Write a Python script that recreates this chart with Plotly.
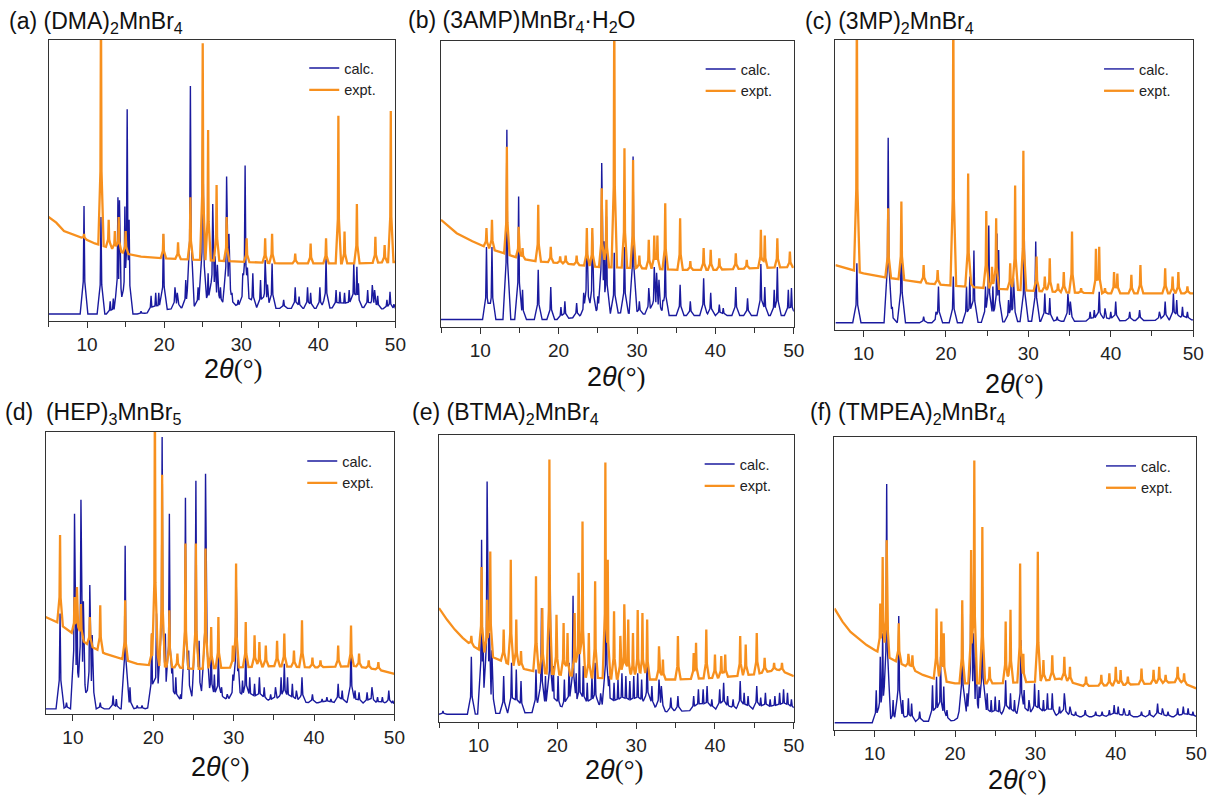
import numpy as np
import plotly.graph_objects as go

W, H = 1225, 797
BLUE = "#1a1a9e"
ORANGE = "#f7901e"
FONT = "Arial, 'Liberation Sans', sans-serif"

# ---------------- data (2-theta in degrees, intensity in arbitrary units, box top = 100) ----------------
titles = [
    "(a) (DMA)<sub>2</sub>MnBr<sub>4</sub>",
    "(b) (3AMP)MnBr<sub>4</sub>·H<sub>2</sub>O",
    "(c) (3MP)<sub>2</sub>MnBr<sub>4</sub>",
    "(d)\u00a0\u00a0(HEP)<sub>3</sub>MnBr<sub>5</sub>",
    "(e) (BTMA)<sub>2</sub>MnBr<sub>4</sub>",
    "(f) (TMPEA)<sub>2</sub>MnBr<sub>4</sub>",
]
x_ranges = [[5, 50], [5, 50], [6.6, 50], [6.6, 50], [5, 50], [5, 50]]
x_ticks = [10, 20, 30, 40, 50]
series_names = ["calc.", "expt."]

# (a) (DMA)2MnBr4
a_calc_base = [(5, 2.5), (17, 2.5), (18, 3), (20, 4), (23, 5), (27, 6), (30, 5), (35, 4.5), (40, 4.5), (45, 5), (50, 4)]
a_calc_peaks = [(9.6, 40.9), (11.8, 37), (13.0, 7), (13.4, 8), (14.0, 44), (14.2, 43), (14.9, 40.7), (15.2, 75.4),
                (15.45, 36), (17.0, 3.5), (18.3, 9), (18.9, 10), (19.3, 10), (19.9, 31), (21.4, 12), (21.7, 10),
                (22.8, 14.6), (23.4, 83.6), (24.4, 12), (25.0, 68.6), (25.7, 17), (26.3, 41.6), (26.6, 23), (26.9, 20),
                (27.3, 12), (28.1, 51.4), (28.4, 31), (28.8, 10), (29.6, 7.5), (30.2, 17), (30.5, 55.3), (30.8, 19),
                (31.5, 17), (32.5, 14.6), (33.1, 21.7), (33.4, 13), (34.0, 20.5), (35.5, 7.5), (37.0, 12), (37.5, 8.7),
                (38.6, 12), (39.0, 10), (40.2, 12), (41.0, 22.3), (42.3, 11), (42.8, 10.4), (43.4, 10), (44.0, 11),
                (44.6, 20.5), (45.0, 19.3), (45.2, 13.4), (46.4, 11), (47.0, 12.8), (47.3, 11), (47.7, 9), (48.9, 7.5),
                (49.3, 10.4), (49.8, 6)]
a_expt_base = [(5, 37), (6, 35), (7, 32), (9, 30), (11, 27.6), (13, 25.9), (15, 24), (17, 22.9), (20, 22.3),
               (25, 21.7), (30, 21.1), (35, 20.5), (40, 20.5), (45, 20.5), (50, 21)]
a_expt_peaks = [(9.6, 31), (11.8, 115), (12.8, 36), (13.6, 32), (14.1, 37), (15.0, 32), (19.9, 31), (21.8, 28),
                (23.4, 44), (25.0, 98.8), (25.7, 68), (26.8, 48.4), (28.1, 37), (30.7, 29.4), (33.1, 29.4), (34.0, 31),
                (37.0, 24), (39.0, 27.6), (41.0, 29.4), (42.6, 73), (43.4, 31.8), (45.0, 41.6), (47.4, 30), (48.6, 27),
                (49.4, 74.7)]

# (b) (3AMP)MnBr4.H2O
b_calc_base = [(5, 2.6), (20, 2.6), (24, 4), (28, 5), (34, 4), (40, 4), (50, 4)]
b_calc_peaks = [(10.8, 28), (11.5, 28), (13.4, 69), (14.9, 45.6), (15.4, 13), (17.4, 20), (19.0, 14), (20.3, 7),
                (20.8, 9), (22.3, 8.4), (23.2, 12), (23.6, 34), (24.3, 33), (25.0, 10.7), (25.5, 57.3), (25.8, 30),
                (26.1, 38.6), (27.1, 26), (28.4, 28), (29.5, 59.6), (30.3, 9), (31.5, 13.6), (32.2, 21), (32.5, 19),
                (32.8, 16.5), (33.3, 9.5), (33.6, 26), (35.5, 14.8), (36.8, 9), (38.5, 17), (39.4, 12), (40.5, 7.8),
                (41.0, 6.6), (42.6, 14), (44.1, 10), (45.8, 22), (46.3, 14), (47.5, 13), (47.9, 21), (49.3, 13),
                (49.7, 13.6)]
b_expt_base = [(5, 37.5), (6, 35), (7, 32.8), (9, 30), (11, 27.6), (13, 25.8), (15, 24), (17, 23), (20, 22.4),
               (25, 21), (30, 20.6), (35, 20), (40, 20), (45, 20.6), (50, 21)]
b_expt_peaks = [(10.8, 34.6), (11.5, 37.5), (13.4, 63), (14.9, 35), (15.4, 27.6), (17.4, 42.7), (19.0, 28),
                (20.2, 24.7), (20.9, 25), (22.3, 25), (23.6, 34.6), (24.3, 34.6), (25.5, 48.5), (26.1, 44.5),
                (27.1, 115), (28.4, 62.5), (29.5, 58.4), (30.3, 25), (31.5, 30.5), (32.2, 32), (32.6, 32),
                (33.6, 43.3), (35.5, 38), (36.8, 23), (38.5, 27.6), (39.4, 27), (40.5, 24), (42.6, 25.8), (44.0, 23.5),
                (45.8, 34), (46.3, 32), (47.9, 31), (49.5, 26.4)]

# (c) (3MP)2MnBr4
c_calc_base = [(6.6, 2.5), (22, 2.5), (30, 3), (35, 3), (50, 3.5)]
c_calc_peaks = [(9.2, 23), (13.0, 66.3), (13.5, 8), (14.6, 36.8), (17.3, 4.6), (18.8, 6.3), (19.1, 15), (20.9, 18.4),
                (22.5, 15), (22.9, 18.4), (23.4, 27.4), (24.8, 15), (25.2, 36), (25.7, 15), (26.2, 33.3), (26.4, 27.6),
                (27.6, 10.3), (27.9, 16), (28.2, 17.8), (29.5, 34.5), (30.9, 30.5), (32.0, 12.6), (32.6, 11),
                (33.5, 4.6), (34.8, 12.6), (35.1, 9.8), (37.5, 6.3), (38.0, 6.9), (38.6, 13.2), (39.3, 7.5),
                (40.0, 6.3), (40.6, 9.8), (42.3, 6.3), (43.5, 6.9), (45.9, 6.3), (46.6, 9.8), (47.6, 12.6),
                (48.0, 10.3), (48.7, 8), (49.3, 6.3)]
c_expt_base = [(6.6, 22.4), (8, 21.3), (10, 19.5), (12, 18.4), (15, 17.2), (18, 16), (20, 15.5), (25, 14.4),
               (30, 13.6), (35, 12.9), (40, 12.6), (45, 12.6), (50, 12.6)]
c_expt_peaks = [(9.2, 115), (13.0, 42), (14.6, 44.3), (17.3, 22.4), (19.0, 20.7), (20.9, 115), (22.7, 54), (23.0, 18.4),
                (24.9, 41), (25.6, 21.8), (26.1, 38.5), (27.8, 23), (28.4, 49.8), (29.4, 61.8), (31.0, 25.3),
                (32.0, 18.4), (32.6, 24.7), (33.6, 16), (34.3, 20), (35.3, 34), (36.4, 14.4), (38.2, 28), (38.6, 28.7),
                (39.3, 14.4), (40.4, 20), (40.8, 19.5), (42.5, 19), (43.6, 22.4), (46.6, 21.3), (47.5, 18.4),
                (48.2, 20), (49.3, 15)]

# (d) (HEP)3MnBr5
d_calc_base = [(6.6, 1.8), (19, 1.8), (21, 4), (25, 5), (30, 5), (40, 4), (45, 4), (50, 3.5)]
d_calc_peaks = [(8.4, 35.6), (9.2, 4), (10.2, 71), (10.5, 45), (11.0, 76), (11.3, 40), (12.1, 45.7), (12.4, 28),
                (13.4, 4), (15.0, 6.5), (15.4, 5.3), (16.5, 59.7), (17.1, 9.5), (18.0, 3), (18.6, 3), (19.8, 28.5),
                (20.4, 35.6), (21.1, 98.2), (21.5, 28.5), (22.0, 71), (22.4, 16.6), (22.8, 13), (23.4, 7), (24.0, 76.7),
                (24.4, 22.5), (25.3, 82.7), (25.7, 26), (26.5, 85.2), (27.2, 23.7), (27.6, 14), (28.1, 21.4),
                (28.5, 9.5), (29.2, 7), (29.9, 14), (30.3, 50.4), (30.6, 16.6), (31.1, 11.9), (31.5, 22.5), (32.0, 13),
                (32.6, 10.7), (33.2, 13), (33.8, 9.5), (34.6, 7), (35.2, 9.5), (35.9, 13), (36.3, 17.8), (36.7, 13),
                (37.3, 10.7), (37.8, 8.3), (38.5, 13), (39.8, 7), (41.0, 5.3), (41.6, 6), (42.1, 5.3), (43.0, 10.7),
                (43.5, 8.3), (44.6, 23.7), (45.1, 8.3), (45.6, 7.7), (46.6, 7.7), (47.2, 9.5), (47.9, 6), (48.5, 6),
                (49.3, 8.3), (49.8, 4.7)]
d_expt_base = [(6.6, 34.4), (8, 32.6), (10, 28.5), (12, 24.3), (14, 21.4), (16, 19.6), (18, 17.8), (20, 17.2),
               (25, 16), (30, 16.5), (35, 17), (40, 16.5), (45, 17), (48, 15.7), (50, 14.2)]
d_expt_peaks = [(8.4, 63.5), (10.2, 41.5), (10.5, 45), (11.0, 39), (12.1, 34.4), (13.4, 38.6), (16.5, 40.3),
                (19.8, 28.5), (20.2, 115), (20.4, 35.6), (21.1, 84.8), (22.0, 36.8), (23.0, 21.4), (24.0, 60.5),
                (25.3, 60.5), (26.5, 58.7), (27.2, 30.8), (28.1, 34.4), (29.9, 24.3), (30.3, 53.4), (31.5, 32.6),
                (32.6, 27.9), (33.2, 25.5), (34.0, 24.3), (35.4, 26), (36.3, 28.5), (37.5, 22.5), (38.5, 33.2),
                (39.8, 20), (40.8, 19), (43.0, 24.3), (44.6, 31.4), (45.6, 21.4), (46.8, 19), (48.0, 18.4)]

# (e) (BTMA)2MnBr4
e_calc_base = [(5, 2.7), (9, 2.7), (12, 3), (20, 3.5), (26, 5), (32, 5), (34, 3.5), (40, 4.5), (50, 4.5)]
e_calc_peaks = [(5.5, 3.8), (9.1, 22.7), (10.4, 63.5), (10.6, 27.6), (11.1, 83.8), (11.4, 31), (11.7, 25), (13.2, 16),
                (14.2, 20.6), (14.8, 18.3), (15.4, 14.3), (17.3, 18.3), (18.0, 39.7), (18.5, 16), (19.1, 51.3),
                (19.5, 19.5), (20.1, 16), (20.9, 14.8), (21.5, 20.6), (22.0, 44), (22.4, 17), (22.8, 25), (23.3, 19.5),
                (23.8, 13.7), (24.4, 16), (24.8, 20.6), (25.5, 10), (26.2, 54.8), (26.6, 16), (27.2, 13.7),
                (27.7, 14.8), (28.2, 17), (28.7, 16), (29.2, 14.3), (29.7, 16), (30.2, 17), (30.7, 14.8), (31.4, 23),
                (32.0, 12.5), (32.9, 14.8), (33.2, 12.5), (34.4, 8.5), (35.3, 9), (37.3, 9), (37.9, 11.4), (38.5, 11.4),
                (39.0, 12.5), (39.6, 7.9), (40.6, 11.4), (41.1, 13.7), (41.6, 9), (42.3, 7.9), (43.2, 14.3),
                (43.7, 10.2), (44.2, 9), (45.3, 12.5), (45.8, 8.5), (46.4, 10.2), (47.0, 7.9), (47.6, 9), (48.2, 10.2),
                (48.7, 11.4), (49.2, 10.2), (49.7, 7.9)]
e_expt_base = [(5, 39.7), (6, 35.7), (7, 32.2), (8, 29.3), (9, 27), (10, 25.3), (12, 22.4), (14, 20), (16, 18.3),
               (18, 17.1), (20, 16.6), (25, 15.4), (30, 14.8), (35, 14.8), (40, 15.4), (45, 16.6), (48, 18.3), (50, 16)]
e_expt_peaks = [(9.1, 30), (10.4, 54), (11.1, 42.6), (11.5, 59.4), (13.2, 32.2), (14.1, 56.5), (14.8, 35.7),
                (15.4, 24.7), (17.3, 50.8), (18.1, 39.7), (19.0, 91.5), (19.9, 37.4), (20.8, 34.5), (21.3, 31),
                (22.2, 38), (22.7, 52), (23.2, 69.9), (24.0, 31), (24.8, 49), (26.1, 90.4), (26.4, 56.5), (27.2, 38.6),
                (28.0, 30), (28.5, 41), (29.0, 35.7), (29.6, 31), (30.2, 39), (30.8, 38), (31.4, 35.7), (32.9, 26.4),
                (33.4, 21.8), (35.3, 30), (37.3, 24), (37.6, 27.6), (38.9, 32.2), (40.0, 23.5), (40.8, 23),
                (41.3, 23.5), (43.2, 30), (43.9, 27), (45.3, 31), (46.3, 22.4), (47.5, 20.6), (48.5, 20.6)]

# (f) (TMPEA)2MnBr4
f_calc_base = [(5, 2.5), (10, 2.5), (16, 3), (19, 3), (24, 4.5), (30, 5), (36, 4.5), (50, 4.5)]
f_calc_peaks = [(10.2, 13.6), (10.7, 25), (11.0, 33), (11.3, 17), (11.5, 84), (12.3, 10.2), (13.0, 38.9), (13.5, 10.2),
                (14.2, 10.8), (14.6, 9), (15.6, 6.3), (17.2, 15.3), (17.7, 18.2), (18.2, 25), (18.6, 14.8), (19.0, 6.8),
                (20.4, 5.7), (20.9, 42.6), (21.5, 12.5), (22.0, 60.2), (22.3, 33), (22.6, 25), (23.0, 14.8),
                (23.4, 48.9), (24.0, 12.5), (24.5, 10.2), (25.0, 11.4), (25.5, 10.2), (26.3, 17), (26.9, 12.5),
                (27.4, 10.2), (28.2, 30.7), (28.6, 13.6), (29.2, 10.2), (29.9, 15.9), (30.4, 13.6), (31.0, 10.2),
                (31.5, 12.5), (32.1, 12.5), (33.0, 8), (33.6, 12.5), (34.3, 8), (35.0, 6.3), (36.2, 6.8), (37.5, 6.3),
                (38.3, 6.3), (39.2, 6.8), (39.8, 8.5), (40.3, 8), (41.0, 7.4), (41.7, 6.8), (43.2, 6.3), (44.2, 6.8),
                (45.2, 9), (45.8, 7.4), (46.5, 6.3), (47.7, 7.4), (48.4, 8), (49.0, 7.4), (49.6, 6.3)]
f_expt_base = [(5, 41.5), (6, 37), (7, 33.5), (8, 31.3), (9, 29), (10, 27.3), (12, 24.4), (14, 21.6), (16, 18.8),
               (18, 17), (20, 15.9), (25, 15.9), (30, 16.5), (33, 17.5), (36, 15), (40, 15.3), (45, 15.9), (48, 16.5),
               (50, 14.2)]
f_expt_peaks = [(10.7, 43.2), (11.0, 59), (11.3, 34), (11.5, 64.8), (13.0, 36.4), (14.2, 26), (14.7, 25.5),
                (17.7, 41.5), (18.3, 37), (18.6, 33), (20.9, 44.3), (22.0, 61.4), (22.4, 92), (23.4, 69.3), (24.3, 21.6),
                (26.3, 37), (26.9, 41), (28.1, 56.8), (28.5, 26), (30.3, 60.8), (31.0, 23.9), (32.1, 25.5), (33.6, 25),
                (34.3, 21.6), (36.3, 18.2), (38.2, 18.8), (39.2, 19.3), (40.0, 21.6), (40.6, 20.5), (41.5, 18.2),
                (43.2, 21), (44.7, 20.5), (45.4, 21.6), (46.2, 18.8), (47.7, 21.6), (48.5, 19.3)]

calc_bases = [a_calc_base, b_calc_base, c_calc_base, d_calc_base, e_calc_base, f_calc_base]
calc_peaks = [a_calc_peaks, b_calc_peaks, c_calc_peaks, d_calc_peaks, e_calc_peaks, f_calc_peaks]
expt_bases = [a_expt_base, b_expt_base, c_expt_base, d_expt_base, e_expt_base, f_expt_base]
expt_peaks = [a_expt_peaks, b_expt_peaks, c_expt_peaks, d_expt_peaks, e_expt_peaks, f_expt_peaks]

# ---------------- layout (pixels) ----------------
boxes = [(49, 399, 40, 321), (445, 801, 41, 327), (843, 1204, 40, 330),
         (46, 398, 432, 714), (443, 801, 435, 722), (842, 1207, 437, 730)]
title_pos = [(7, 22), (410, 21), (810, 22), (3, 413), (414, 413), (815, 414)]
label_pos = [(235, 369), (622, 377), (1023, 384), (222, 767), (620, 770), (1026, 780)]
legend_pos = [(312, 62), (712, 63), (1114, 63), (310, 455), (711, 458), (1116, 460)]


def build(base, peaks, w, sw, sf):
    bx = np.array([p[0] for p in base], dtype=float)
    by = np.array([p[1] for p in base], dtype=float)
    xs = set(bx.tolist())
    for p, _ in peaks:
        xs.update([p - w, p - sw, p, p + sw, p + w])
    xs = np.array(sorted(v for v in xs if bx[0] <= v <= bx[-1]))
    yb = np.interp(xs, bx, by)
    add = np.zeros_like(xs)
    for p, top in peaks:
        h = top - np.interp(p, bx, by)
        d = np.abs(xs - p)
        prof = np.where(d <= sw, h * (1 - (1 - sf) * d / sw),
                        np.where(d <= w, h * sf * (w - d) / (w - sw), 0.0))
        add = np.maximum(add, prof)
    return xs, yb + add


fig = go.Figure()
layout = dict(width=W, height=H, margin=dict(l=0, r=0, t=0, b=0),
              paper_bgcolor="white", plot_bgcolor="white", showlegend=True,
              font=dict(family=FONT, color="#222"))
annotations = []

for i in range(6):
    k = "" if i == 0 else str(i + 1)
    xa, ya, lg = "x" + k, "y" + k, "legend" + k
    cx, cy = build(calc_bases[i], calc_peaks[i], 0.5, 0.1, 0.3)
    ex, ey = build(expt_bases[i], expt_peaks[i], 0.35, 0.07, 0.3)
    fig.add_trace(go.Scatter(x=cx, y=cy, mode="lines", name=series_names[0],
                             line=dict(color=BLUE, width=1.4), xaxis=xa, yaxis=ya, legend=lg))
    fig.add_trace(go.Scatter(x=ex, y=ey, mode="lines", name=series_names[1],
                             line=dict(color=ORANGE, width=2.3), xaxis=xa, yaxis=ya, legend=lg))
    L, R, T, B = boxes[i]
    layout["xaxis" + k] = dict(domain=[L / W, R / W], range=x_ranges[i], anchor=ya,
                               showline=True, linecolor="#333", linewidth=1.3, mirror=True,
                               showgrid=False, zeroline=False,
                               tickmode="array", tickvals=x_ticks, ticks="outside", ticklen=6,
                               tickcolor="#333", tickwidth=1.2,
                               minor=dict(dtick=5, tick0=0, ticks="outside", ticklen=5, tickcolor="#333"),
                               tickfont=dict(size=19, family=FONT, color="#222"))
    layout["yaxis" + k] = dict(domain=[1 - B / H, 1 - T / H], range=[0, 100], anchor=xa,
                               showline=True, linecolor="#333", linewidth=1.3, mirror=True,
                               showgrid=False, zeroline=False, showticklabels=False, ticks="")
    lx, ly = legend_pos[i]
    layout[lg] = dict(x=(lx - 5) / W, y=1 - (ly - 10) / H, xanchor="left", yanchor="top",
                      bgcolor="rgba(0,0,0,0)", borderwidth=0, tracegroupgap=0,
                      font=dict(size=14.5, family=FONT, color="#222"))
    tx, ty = title_pos[i]
    annotations.append(dict(text=titles[i], x=tx / W, y=1 - ty / H, xref="paper", yref="paper",
                            xanchor="left", yanchor="middle", showarrow=False,
                            font=dict(size=23, family=FONT, color="#111")))
    ax_, ay_ = label_pos[i]
    annotations.append(dict(text="2<i>θ</i><span style='font-family:Liberation Serif'>(°)</span>",
                            x=ax_ / W, y=1 - ay_ / H, xref="paper", yref="paper",
                            xanchor="center", yanchor="middle", showarrow=False,
                            font=dict(size=27, family=FONT, color="#111")))

layout["annotations"] = annotations
fig.update_layout(**layout)
fig.write_html("out.html")
